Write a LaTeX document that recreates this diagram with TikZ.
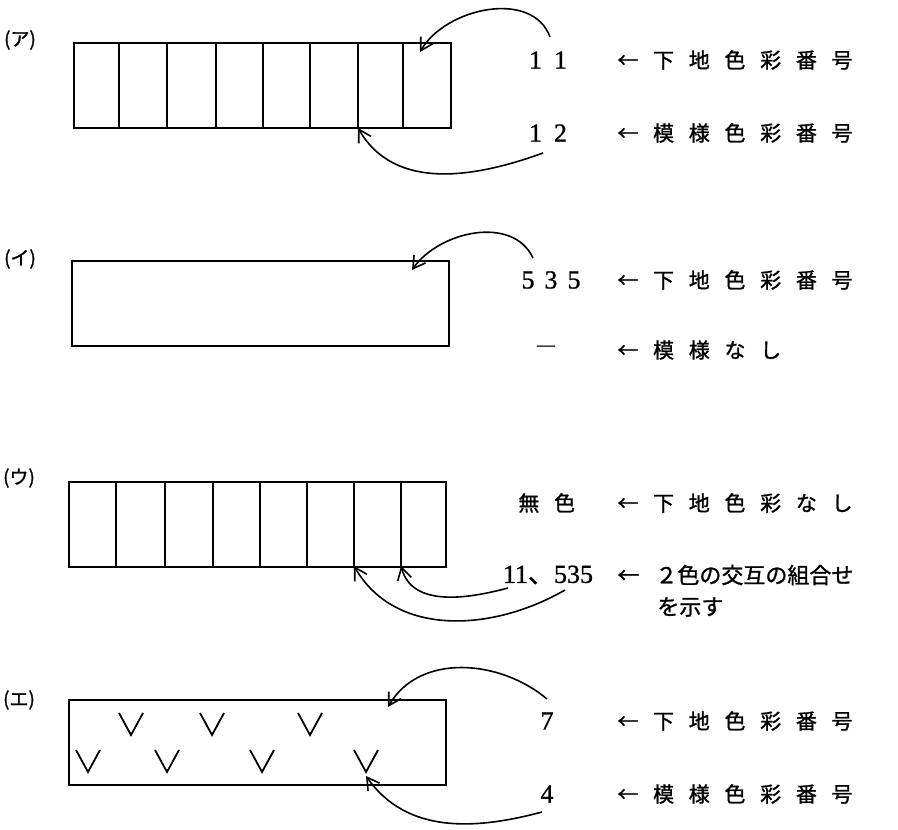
\documentclass[tikz,border=0pt]{standalone}
\usepackage{fontspec}
\newfontfamily\jpfont[FakeBold=1.2]{Noto Sans CJK JP}
\newfontfamily\jpwide[LetterSpace=70, FakeBold=1.2]{Noto Sans CJK JP}
\newfontfamily\numfont[FakeBold=1]{Liberation Serif}
\usetikzlibrary{arrows.meta, positioning}

\begin{document}
\begin{tikzpicture}[
    x=0.5pt, y=0.5pt,
    panel/.style={draw, line width=1.1pt, anchor=north west, inner sep=0pt, minimum width=188.5pt, minimum height=42.5pt},
    rule/.style={line width=1.1pt},
    tag/.style={font=\jpfont\fontsize{9.5}{11}\selectfont, inner sep=0pt},
    num/.style={font=\numfont\fontsize{13}{15}\selectfont, inner sep=0pt},
    note/.style={font=\jpwide\fontsize{10.5}{12}\selectfont, anchor=west, inner sep=0pt},
    pointer/.style={-{Straight Barb[length=6pt,width=7pt]}, line width=0.8pt},
    vmark/.style={line width=0.9pt}
]
\useasboundingbox (0,0) rectangle (898,829);

% (ア) eight cells
\node[tag] (tagA) at (20,789) {(ア)};
\node[panel] (boxA) at (73,787) {};
\foreach \x in {119,167,216,263,310,358,403}
    \draw[rule] (\x,787) -- (\x,702);
\node[num] (numA1) at (548,769) {1\hspace{6pt}1};
\node[note] (noteA1) at (617,769) {←下地色彩番号};
\node[num] (numA2) at (548,696) {1\hspace{6pt}2};
\node[note] (noteA2) at (617,696) {←模様色彩番号};
\coordinate (fromA1) at (550,792);
\coordinate (tipA1) at (420,777);
\coordinate (fromA2) at (543,676);
\coordinate (tipA2) at (358,701);
\draw[pointer] (fromA1) to[out=110,in=60] (tipA1);
\draw[pointer] (fromA2) to[out=200,in=-60] (tipA2);

% (イ) plain
\node[tag] (tagB) at (20,570) {(イ)};
\node[panel] (boxB) at (71,569) {};
\node[num] (numB1) at (551,549) {5\hspace{5pt}3\hspace{5pt}5};
\node[note] (noteB1) at (617,549) {←下地色彩番号};
\node[num, font=\jpfont\fontsize{10.5}{12}\selectfont] (numB2) at (546,479) {―};
\node[note] (noteB2) at (617,479) {←模様なし};
\coordinate (fromB1) at (533,571);
\coordinate (tipB1) at (412,559);
\draw[pointer] (fromB1) to[out=115,in=55] (tipB1);

% (ウ) two colours
\node[tag] (tagC) at (19,351) {(ウ)};
\node[panel] (boxC) at (68,348) {};
\foreach \x in {116,165,213,260,307,354,401}
    \draw[rule] (\x,348) -- (\x,263);
\node[note] (numC1) at (518,326) {無色};
\node[note] (noteC1) at (617,326) {←下地色彩なし};
\node[num] (numC2) at (548,254) {11{\jpfont 、}535};
\node[note, font=\jpfont\fontsize{11}{13}\selectfont] (noteC2) at (617,254) {←\hspace{8pt}２色の交互の組合せ};
\node[note, font=\jpfont\fontsize{11}{13}\selectfont] (noteC3) at (657,222) {を示す};
\coordinate (fromC1) at (508,241);
\coordinate (tipC1) at (401,263);
\coordinate (fromC2) at (565,239);
\coordinate (tipC2) at (354,263);
\draw[pointer] (fromC1) to[out=195,in=-75] (tipC1);
\draw[pointer] (fromC2) to[out=210,in=-60] (tipC2);

% (エ) pattern
\node[tag] (tagD) at (19,129) {(エ)};
\node[panel] (boxD) at (68,130) {};
\foreach \x/\y in {131/105, 212/105, 310/105, 88/68, 167/68, 262/68, 366/68}
    \draw[vmark] (\x-12,\y+11) -- (\x,\y-11) -- (\x+12,\y+11);
\node[num] (numD1) at (547,108) {7};
\node[note] (noteD1) at (617,108) {←下地色彩番号};
\node[num] (numD2) at (547,35) {4};
\node[note] (noteD2) at (617,35) {←模様色彩番号};
\coordinate (fromD1) at (547,130);
\coordinate (tipD1) at (388,122);
\coordinate (fromD2) at (542,17);
\coordinate (tipD2) at (366,53);
\draw[pointer] (fromD1) to[out=140,in=60] (tipD1);
\draw[pointer] (fromD2) to[out=195,in=-55] (tipD2);
\end{tikzpicture}
\end{document}
